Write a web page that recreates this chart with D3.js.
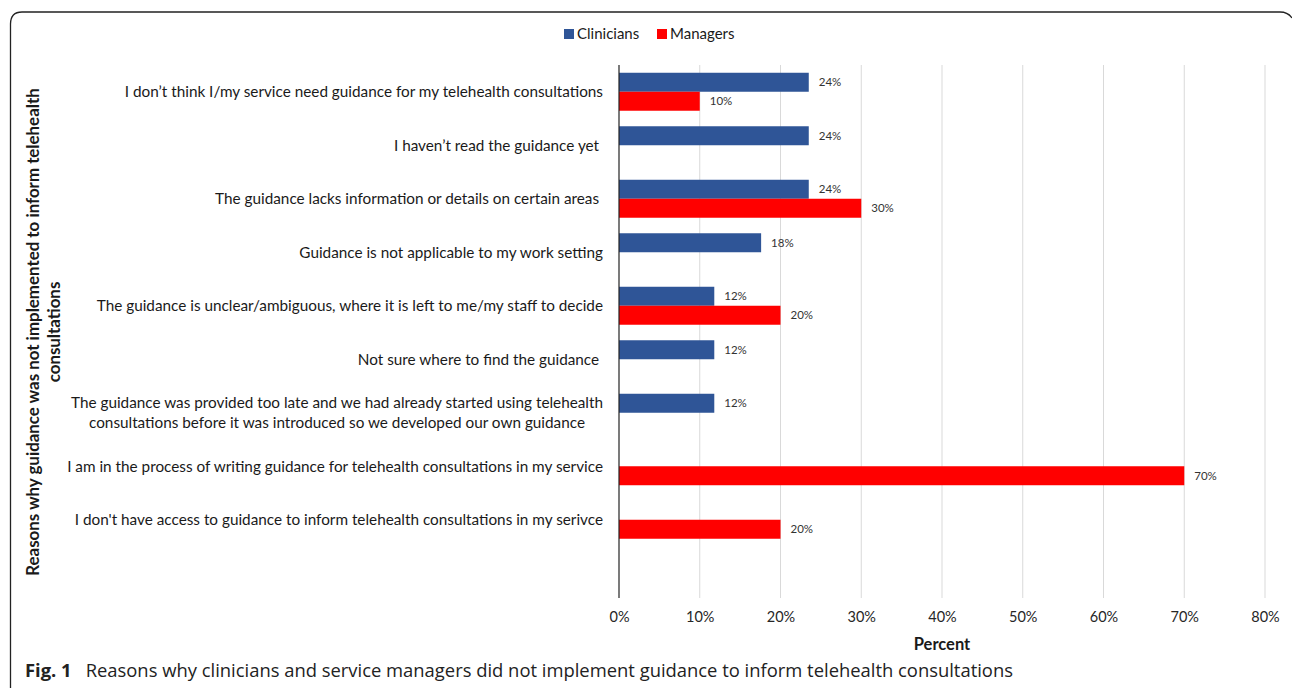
<!DOCTYPE html>
<html>
<head>
<meta charset="utf-8">
<script src="https://cdn.jsdelivr.net/npm/d3@7"></script>
<style>
  body { margin: 0; background: #fff; }
  svg { display: block; font-family: Lato, "Open Sans", sans-serif; }
  .cat { white-space: pre; }
</style>
</head>
<body>
<div id="chart"></div>
<script>
const categories = [
    ["I don\u2019t think I/my service need guidance for my telehealth consultations"],
    ["I haven\u2019t read the guidance yet "],
    ["The guidance lacks information or details on certain areas "],
    ["Guidance is not applicable to my work setting"],
    ["The guidance is unclear/ambiguous, where it is left to me/my staff to decide"],
    ["Not sure where to find the guidance "],
    ["The guidance was provided too late and we had already started using telehealth",
     "consultations before it was introduced so we developed our own guidance"],
    ["I am in the process of writing guidance for telehealth consultations in my service"],
    ["I don't have access to guidance to inform telehealth consultations in my serivce"],
    [""]
];
const clinicians = [23.5, 23.5, 23.5, 17.6, 11.8, 11.8, 11.8, 0, 0, 0];
const managers = [10, 0, 30, 0, 20, 0, 0, 70, 20, 0];
const seriesNames = ['Clinicians', 'Managers'];
const seriesColors = ['#2f5597', '#ff0000'];
const xTicks = [0, 10, 20, 30, 40, 50, 60, 70, 80];

const width = 1292, height = 689;
const svg = d3.select('#chart').append('svg')
    .attr('width', width).attr('height', height);

// frame
svg.append('path')
    .attr('d', 'M10.5,688 Q10.5,684 10.5,680 L10.5,24 Q10.5,12 22,12 L1280,12 Q1288,12 1292,18')
    .attr('fill', 'none').attr('stroke', '#222').attr('stroke-width', 1.3);

const x = d3.scaleLinear().domain([0, 80]).range([619, 1265]);
const y = d3.scaleBand().domain(d3.range(categories.length)).range([65, 600]).paddingInner(0.29).paddingOuter(0.145);
const sub = d3.scaleBand().domain(seriesNames).range([0, y.bandwidth()]);

// gridlines
svg.append('g')
    .selectAll('line').data(xTicks.slice(1)).join('line')
    .attr('x1', d => x(d)).attr('x2', d => x(d))
    .attr('y1', 65).attr('y2', 598)
    .attr('stroke', '#d9d9d9').attr('stroke-width', 1);

// x axis labels
const xAxis = svg.append('g')
    .attr('transform', 'translate(0,598)')
    .call(d3.axisBottom(x).tickValues(xTicks).tickFormat(d => d + '%').tickSize(0).tickPadding(14));
xAxis.select('.domain').remove();
xAxis.selectAll('text').attr('font-size', 14.5).attr('fill', '#262626').attr('font-family', 'Lato, sans-serif');

svg.append('text').attr('x', 942).attr('y', 650).attr('text-anchor', 'middle')
    .attr('font-size', 16.5).attr('font-weight', 'bold').attr('fill', '#1a1a1a').text('Percent');

// bars
const rows = categories.map((c, i) => ({ i, values: [clinicians[i], managers[i]] }));
const rowG = svg.append('g').selectAll('g').data(rows).join('g')
    .attr('transform', d => `translate(0,${y(d.i)})`);

rowG.selectAll('rect').data(d => d.values.map((v, k) => ({ v, k })).filter(e => e.v > 0)).join('rect')
    .attr('x', x(0))
    .attr('y', e => sub(seriesNames[e.k]))
    .attr('width', e => x(e.v) - x(0))
    .attr('height', sub.bandwidth())
    .attr('fill', e => seriesColors[e.k]);

rowG.selectAll('text.val').data(d => d.values.map((v, k) => ({ v, k })).filter(e => e.v > 0)).join('text')
    .attr('class', 'val')
    .attr('x', e => x(e.v) + 10)
    .attr('y', e => sub(seriesNames[e.k]) + sub.bandwidth() / 2)
    .attr('dy', '0.35em')
    .attr('font-size', 11.5).attr('fill', '#333')
    .text(e => Math.round(e.v) + '%');

// y axis line
svg.append('line').attr('x1', x(0)).attr('x2', x(0)).attr('y1', 65).attr('y2', 598)
    .attr('stroke', '#222').attr('stroke-width', 1.2);

// category labels
const labelRight = 603;
categories.forEach((lines, i) => {
    const g = svg.append('g');
    const cy = y(i) + y.bandwidth() / 2;
    const lh = 20;
    const texts = lines.map((l, j) => g.append('text')
        .attr('class', 'cat')
        .attr('y', cy + (j - (lines.length - 1) / 2) * lh)
        .attr('dy', '0.35em')
        .attr('font-size', 15.3).attr('fill', '#1a1a1a')
        .attr('text-anchor', 'middle')
        .text(l));
    const maxW = d3.max(texts, t => t.node().getComputedTextLength());
    texts.forEach(t => t.attr('x', labelRight - maxW / 2));
});

// y axis title
const yTitle = svg.append('text')
    .attr('transform', 'translate(33,332) rotate(-90)')
    .attr('text-anchor', 'middle').attr('font-size', 16.9).attr('font-weight', 'bold').attr('fill', '#1a1a1a');
yTitle.append('tspan').attr('x', 0).attr('dy', '0.35em').text('Reasons why guidance was not implemented to inform telehealth');
yTitle.append('tspan').attr('x', 0).attr('dy', 21).text('consultations');

// legend
const legend = svg.append('g').attr('transform', 'translate(564,34)');
const legendX = [0, 93];
seriesNames.forEach((n, k) => {
    const lg = legend.append('g').attr('transform', `translate(${legendX[k]},0)`);
    lg.append('rect').attr('x', 0).attr('y', -5).attr('width', 10).attr('height', 10).attr('fill', seriesColors[k]);
    lg.append('text').attr('x', 13).attr('dy', '0.35em').attr('font-size', 15).attr('fill', '#1a1a1a').text(n);
});

// caption
const cap = svg.append('text').attr('x', 25).attr('y', 677)
    .attr('font-family', '"Open Sans", sans-serif').attr('font-size', 18.4).attr('fill', '#222');
cap.append('tspan').attr('font-weight', 'bold').text('Fig. 1');
cap.append('tspan').attr('dx', 14).text('Reasons why clinicians and service managers did not implement guidance to inform telehealth consultations');
</script>
</body>
</html>
